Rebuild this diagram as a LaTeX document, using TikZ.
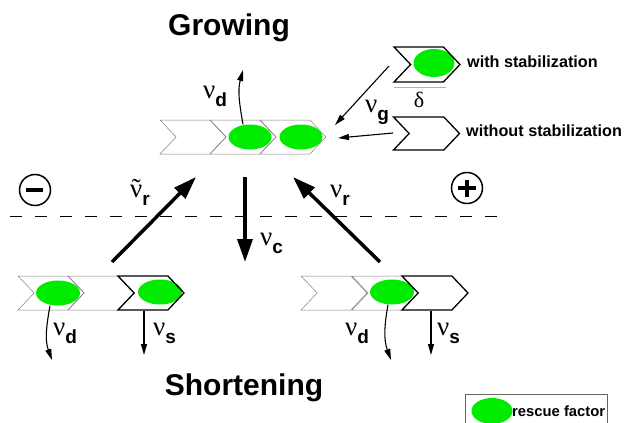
\documentclass[tikz,border=0pt]{standalone}
\usepackage{fontspec}
\setmainfont{Liberation Sans}
\newfontfamily\grk{Liberation Serif}
\usetikzlibrary{shapes.geometric, shapes.symbols, arrows.meta, positioning}
\usepackage{xcolor}
\definecolor{rescue}{RGB}{0,235,0}

\newcommand{\rate}[1]{{\grk\fontsize{27}{27}\selectfont ν}\raisebox{-8pt}{\fontsize{19}{19}\selectfont\bfseries #1}}
\newcommand{\ratetl}[1]{{\grk\fontsize{27}{27}\selectfont\ooalign{ν\cr\hidewidth ˜\hidewidth\cr}}\raisebox{-8pt}{\fontsize{19}{19}\selectfont\bfseries #1}}

\begin{document}
\begin{tikzpicture}[
    x=1pt, y=1pt,
    chev/.style={signal, signal to=east, signal from=west, signal pointer angle=93, minimum width=66pt, minimum height=34pt, inner sep=0pt, draw=black!50, line width=0.5pt},
    chevbold/.style={chev, draw=black, line width=1.3pt},
    factor/.style={ellipse, fill=rescue, minimum width=44pt, minimum height=25pt, inner sep=0pt},
    lbl/.style={anchor=base west, inner sep=0pt},
    title/.style={anchor=base, inner sep=0pt, font=\bfseries\fontsize{30}{36}\selectfont},
    note/.style={anchor=base west, inner sep=0pt, font=\bfseries\fontsize{16.2}{19}\selectfont},
    sign/.style={circle, draw, line width=1.5pt, minimum size=31pt, inner sep=0pt},
    bigarrow/.style={line width=3.5pt, -{Triangle[length=23pt, width=15pt]}},
    thinarrow/.style={line width=1.1pt, -{Triangle[length=11pt, width=6pt]}}
]
    \useasboundingbox (0,0) rectangle (625,-423);

    % Titel
    \node[title] (grow) at (229,-35) {Growing};
    \node[title] (short) at (244,-395) {Shortening};

    % Spitze oben
    \node[chev] (t1) at (193,-137) {};
    \node[chev] (t2) at (243,-137) {};
    \node[chev] (t3) at (293,-137) {};
    % Spitze unten links
    \node[chev] (l1) at (51,-293) {};
    \node[chev] (l2) at (101,-293) {};
    % Spitze unten rechts
    \node[chev] (r1) at (334,-293) {};
    \node[chev] (r2) at (385,-293) {};

    % Rettungsfaktoren
    \node[factor, minimum width=43pt] (te2) at (250,-137) {};
    \node[factor, minimum width=43pt] (te3) at (301,-137) {};
    \node[factor] (le1) at (58,-293) {};
    \node[factor] (le3) at (160,-292) {};
    \node[factor] (re2) at (392,-292) {};

    \node[chevbold] (l3) at (151,-293) {};
    \node[chevbold] (r3) at (435,-293) {};

    % Legende rechts oben
    \node[factor, minimum width=41pt, minimum height=28pt] (wse) at (434,-63) {};
    \node[chevbold, minimum height=35pt] (ws) at (427,-64.5) {};
    \node[chevbold, minimum height=33pt] (wo) at (426.5,-133.5) {};
    \draw[gray!60, line width=1pt] (394,-87) -- (446,-87);
    \node (delta) at (419,-100) {\grk\fontsize{22}{22}\selectfont δ};
    \node[note] (wstext) at (467,-67) {with stabilization};
    \node[note] (wotext) at (466,-136) {without stabilization};

    % Legende unten
    \node[draw=gray!80!black, line width=0.6pt, anchor=north west, minimum width=142pt, minimum height=50pt] (legend) at (465,-394) {};
    \node[factor, minimum width=41pt, minimum height=26pt] (lege) at (492,-411) {};
    \node[note, anchor=west, font=\bfseries\fontsize{14.8}{17}\selectfont] (legt) at (512,-411) {rescue factor};

    % Vorzeichen
    \node[sign] (minus) at (35,-190) {\rule[-1.75pt]{17pt}{3.5pt}};
    \node[sign] (plus) at (467,-188) {\makebox[0pt]{\rule[-1.75pt]{18pt}{3.5pt}}\makebox[0pt]{\rule[-8.5pt]{3.5pt}{17pt}}};
    \draw[dash pattern=on 12pt off 13pt, line width=0.8pt] (10,-216) coordinate (dl) -- (504,-216) coordinate (dr);

    % Raten
    \node[lbl] (vdtop) at (203,-98) {\rate{d}};
    \node[lbl] (vg) at (365,-112) {\rate{g}};
    \node[lbl] (vrt) at (130,-197) {\ratetl{r}};
    \node[lbl] (vr) at (330,-197) {\rate{r}};
    \node[lbl] (vc) at (260,-245) {\rate{c}};
    \node[lbl] (vdl) at (53,-335) {\rate{d}};
    \node[lbl] (vsl) at (153,-335) {\rate{s}};
    \node[lbl] (vdr) at (345,-335) {\rate{d}};
    \node[lbl] (vsr) at (437,-335) {\rate{s}};

    % Pfeilenden
    \coordinate (offtop) at (243,-70);
    \coordinate (offl) at (52,-360);
    \coordinate (offr) at (391,-360);
    \coordinate (dropl) at (144,-355);
    \coordinate (dropr) at (431,-355);
    \coordinate (wsin) at (389,-66);
    \coordinate (woin) at (393,-133);
    \coordinate (tipws) at (335,-125);
    \coordinate (tipwo) at (338,-138);
    \coordinate (lt) at (112,-262);
    \coordinate (lh) at (196,-177);
    \coordinate (ct) at (245,-177);
    \coordinate (ch) at (245,-262);
    \coordinate (rt) at (380,-262);
    \coordinate (rh) at (293,-177);

    % Pfeile
    \draw[thinarrow] ([xshift=-7pt]te2.north) to[out=100, in=-105] (offtop);
    \draw[thinarrow] ([xshift=-8pt]le1.south) to[out=-100, in=110] (offl);
    \draw[thinarrow] ([xshift=-4pt]re2.south) to[out=-100, in=110] (offr);
    \draw[thinarrow] ([xshift=-7pt]l3.south) -- (dropl);
    \draw[thinarrow] ([xshift=-4pt]r3.south) -- (dropr);
    \draw[thinarrow] (wsin) -- (tipws);
    \draw[thinarrow] (woin) -- (tipwo);
    \draw[bigarrow] (lt) -- (lh);
    \draw[bigarrow] (ct) -- (ch);
    \draw[bigarrow] (rt) -- (rh);
\end{tikzpicture}
\end{document}
